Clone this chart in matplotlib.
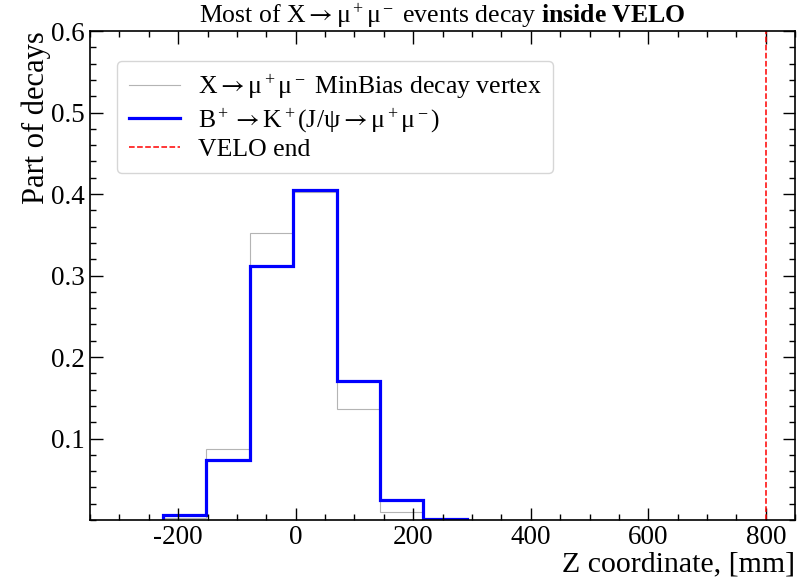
import numpy as np
import matplotlib
matplotlib.use("Agg")
import matplotlib.pyplot as plt
from matplotlib.ticker import MultipleLocator

# 書式設定（Times系のセリフ体）
plt.rcParams['font.family'] = ['Liberation Serif', 'DejaVu Serif']
plt.rcParams['mathtext.fontset'] = 'custom'
plt.rcParams['mathtext.rm'] = 'Liberation Serif'
plt.rcParams['mathtext.it'] = 'Liberation Serif:italic'
plt.rcParams['mathtext.bf'] = 'Liberation Serif:bold'
plt.rcParams['mathtext.sf'] = 'STIXGeneral'  # 矢印だけSTIXで大きめに
plt.rcParams['mathtext.default'] = 'rm'
plt.rcParams['axes.unicode_minus'] = False

# データ
bin_edges = [-226, -152, -78, -4, 70, 143, 217, 291]
minbias_frac = [0.002, 0.087, 0.352, 0.402, 0.136, 0.010, 0.0005]
bkjpsi_frac = [0.006, 0.074, 0.312, 0.405, 0.171, 0.025, 0.001]
velo_end = 800

arr = r'\mathsf{\rightarrow}'

fig = plt.figure(figsize=(8, 5.86), dpi=100)
ax = fig.add_axes([0.1125, 0.1126, 0.8815, 0.8344])

ax.stairs(minbias_frac, bin_edges, baseline=0, color='#b4b4b4', linewidth=0.8,
          label=r'X$' + arr + r'\mu^+\mu^-$ MinBias decay vertex')
ax.stairs(bkjpsi_frac, bin_edges, baseline=0, color='#0000ff', linewidth=2.3,
          label=r'B$^+' + arr + r'$K$^+$(J/$\psi' + arr + r'\mu^+\mu^-$)')
ax.axvline(velo_end, color='red', linestyle='--', linewidth=1.1, label='VELO end')

ax.set_xlim(-350, 850)
ax.set_ylim(0, 0.6)
ax.set_yticks([0.1, 0.2, 0.3, 0.4, 0.5, 0.6])
ax.xaxis.set_major_locator(MultipleLocator(200))
ax.xaxis.set_minor_locator(MultipleLocator(50))
ax.yaxis.set_minor_locator(MultipleLocator(0.02))
ax.tick_params(which='both', direction='in', top=True, right=True, labelsize=19.5)
ax.tick_params(which='major', length=9, width=1)
ax.tick_params(which='minor', length=4.5, width=1)
for s in ax.spines.values():
    s.set_linewidth(1.2)

ax.set_xlabel('Z coordinate, [mm]', fontsize=21.5, loc='right', labelpad=1)
ax.set_ylabel('Part of decays', fontsize=22, loc='top', labelpad=0)
ax.set_title(r'Most of X$' + arr + r'\mu^+\mu^-$ events decay $\mathbf{inside\ VELO}$',
             fontsize=18.5, pad=3)

ax.legend(loc='upper left', fontsize=18.5, bbox_to_anchor=(0.02, 0.965),
          handlelength=2.0, handletextpad=0.7, borderpad=0.45, labelspacing=0.15,
          edgecolor='#cccccc')

fig.savefig('out.png', dpi=100)
